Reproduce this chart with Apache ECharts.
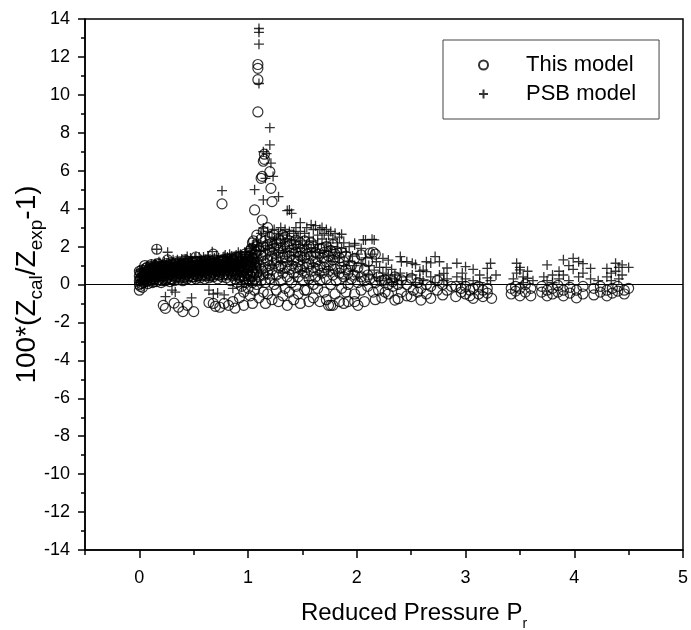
<!DOCTYPE html>
<html><head><meta charset="utf-8">
<script src="https://cdn.jsdelivr.net/npm/echarts@6/dist/echarts.min.js"></script>
<style>html,body{margin:0;padding:0;background:#fff}#c{width:691px;height:630px}</style>
</head><body><div id="c"></div>
<script>
const seriesNames = ['This model', 'PSB model'];
const xTicks = [0, 1, 2, 3, 4, 5];
const xMinorTicks = [-0.5, 0.5, 1.5, 2.5, 3.5, 4.5];
const yRange = [-14, 14];

// rows: [x, y1, y2, ...]
const thisModelRows = [
[0.00,0.0,0.2,0.45,0.7,-0.3],[0.01,-0.1,0.3,0.6],[0.02,0.05,0.4,0.76],[0.03,-0.15,0.25],[0.04,0.1,0.5],
[0.06,0.15,0.55,0.85],[0.08,0.05,0.35,0.7],[0.10,0.2,0.6,0.95],[0.12,0.1,0.45,0.8],[0.14,0.3,0.7,1.0],
[0.16,0.15,0.55,1.86],[0.18,0.25,0.75,1.05],[0.20,0.1,0.5,0.9],[0.22,0.3,0.7,-1.1],[0.24,0.2,0.6,1.0,-1.26],
[0.26,0.35,0.8,1.3],[0.28,0.15,0.55,0.95],[0.30,0.3,0.7,1.1],[0.32,0.2,0.6,-0.98],[0.34,0.4,0.85,1.2],
[0.36,0.25,0.65,1.0,-1.2],[0.38,0.35,0.75],[0.40,0.2,0.6,1.0,-1.43],[0.42,0.4,0.8,1.3],[0.44,0.3,0.7,-1.1],
[0.46,0.45,0.85,1.1],[0.48,0.25,0.65,1.0],[0.50,0.4,0.8,-1.43],[0.52,0.3,0.7,1.2,1.45],[0.54,0.45,0.85],
[0.56,0.35,0.75,1.1],[0.58,0.5,0.9],[0.60,0.3,0.7,1.15],[0.62,0.45,0.85,1.25],[0.64,0.35,0.75,-0.95],
[0.66,0.5,0.9,1.2],[0.68,0.4,0.8,1.6,-1.0],[0.70,0.55,0.95,-1.15],[0.72,0.3,0.7,1.1],[0.74,0.5,0.9,-1.2],
[0.76,0.4,0.8,1.25,4.25],[0.78,0.55,1.0,-1.0],[0.80,0.35,0.75,1.15],[0.82,0.5,0.9,-1.1],[0.84,0.2,0.65,1.05],
[0.86,0.45,0.85,1.3,-0.9],[0.88,0.3,0.7,-1.25],[0.90,0.1,0.55,1.0,1.4],[0.92,0.35,0.8,-0.7],[0.94,-0.1,0.25,0.65,1.2],
[0.96,0.45,0.9,-0.4,-1.1],[0.98,0.1,0.6,1.05,1.5],[1.00,-0.2,0.3,0.75,1.3],[1.02,0.5,1.0,1.8,-0.6],
[1.04,0.1,0.7,1.4,2.2,-1.0],[1.06,0.3,0.9,1.6,3.93,-0.3],[1.08,0.0,0.6,1.2,2.0,2.6],[1.09,11.6,11.4,10.8,9.1],
[1.10,0.4,1.0,1.8,-0.7],[1.12,0.2,0.8,1.5,2.4,5.6],[1.13,5.7,3.4],[1.14,0.5,1.2,2.0,2.8,6.5,-0.4],[1.15,6.87,6.6],
[1.16,0.1,0.9,1.6,2.3,-1.0],[1.18,0.6,1.3,2.1,3.0,-0.5],[1.20,0.3,1.0,1.8,2.5,5.95],[1.21,5.07],
[1.22,0.8,1.5,2.2,4.37,-0.8],[1.24,0.0,1.1,1.9,2.6],[1.26,0.5,1.3,2.1,-0.3],[1.28,0.9,1.7,2.4,-0.9],
[1.30,0.2,1.0,1.9,2.3],[1.32,0.6,1.4,2.6,-0.6],[1.34,-0.2,0.9,1.6,2.5],[1.36,0.4,1.2,2.0,-1.1],
[1.38,0.8,1.5,2.3,-0.4],[1.40,0.1,1.0,1.8,2.6],[1.42,0.6,1.3,2.1,-0.8],[1.44,-0.1,0.9,1.7,2.34],
[1.46,0.4,1.2,2.0,-0.5],[1.48,0.8,1.5,2.2,-1.0],[1.50,0.2,1.0,1.8],[1.52,0.6,1.4,2.3,-0.3],[1.54,-0.3,0.9,1.6],
[1.56,0.3,1.1,2.0,-0.9],[1.58,0.7,1.5,2.2],[1.60,0.0,0.9,2.0,-0.7],[1.62,0.4,1.2,1.7],[1.64,0.8,1.6,-0.2],
[1.66,0.2,1.0,1.9,-0.9],[1.68,0.6,1.4,1.9],[1.70,-0.4,0.9,1.7],[1.72,0.3,1.2,2.0,-0.8],[1.74,0.7,1.5,-1.1],
[1.76,0.0,1.0,1.8,-1.1],[1.78,0.5,1.3,2.1,-1.1],[1.80,-0.5,0.8,1.6],[1.81,1.75,0.2],[1.84,0.6,1.4,-0.9],
[1.86,-0.2,0.9,1.7],[1.88,0.4,1.2,-1.0],[1.90,0.8,1.5,-0.4],[1.92,0.0,0.6,-0.9],[1.95,0.3,1.0],
[1.98,-0.5,0.5,1.38,-0.9],[2.01,0.1,0.9,-1.1],[2.04,-0.3,0.4,1.56],[2.07,0.2,0.8,-0.9],[2.10,-0.1,0.5,1.2],
[2.12,0.3,1.66],[2.15,-0.4,1.7],[2.17,0.1,1.6,-0.8],[2.20,-0.3,0.4],[2.23,0.2,-0.7],[2.26,-0.4,0.24],
[2.29,0.0,-0.5],[2.33,-0.1,0.15],[2.35,-0.82,0.4],[2.38,-0.75,0.0],[2.41,-0.4,0.24],[2.46,-0.6,0.0],
[2.50,-0.64,0.33],[2.52,-0.3],[2.56,0.1,-0.4],[2.59,-0.82,-0.2],[2.64,0.0,-0.5],[2.68,-0.73,-0.1],
[2.74,0.2,-0.3],[2.79,-0.55,0.0],[2.83,-0.3],[2.87,-0.1],
[2.91,-0.64,-0.1],[2.96,-0.4,-0.2],[3.00,-0.1,-0.5],[3.04,-0.3,-0.6],[3.07,-0.73,-0.2],[3.12,-0.5,-0.1],
[3.16,-0.64,-0.3],[3.20,-0.2,-0.45],[3.24,-0.73],[3.42,-0.2,-0.5],[3.46,-0.1,-0.35],[3.50,-0.6,-0.2],
[3.55,-0.4,0.0],[3.60,-0.6,-0.2],[3.70,-0.4,-0.1],[3.75,-0.6,-0.3],[3.80,-0.2,-0.5],[3.85,-0.05,-0.4],
[3.90,-0.6,-0.3],[3.96,-0.15,-0.45],[4.02,-0.7,-0.3],[4.08,-0.1,-0.5],[4.18,-0.2,-0.55],[4.24,-0.4,-0.1],
[4.30,-0.3,-0.6],[4.35,-0.2,-0.45],[4.40,-0.1,-0.35],[4.46,-0.3,-0.5],[4.50,-0.2]
];
// denser part of the low-pressure band
const thisModelBandRows = [
[0.05,0.3,0.65,1.0],[0.07,0.2,0.5,0.9],[0.09,0.4,0.75],[0.11,0.3,0.65,1.05],[0.13,0.15,0.55,0.9],
[0.15,0.4,0.8],[0.17,0.25,0.6,1.1],[0.19,0.45,0.85],[0.21,0.2,0.6,1.0],[0.23,0.45,0.85],
[0.25,0.3,0.65,1.1],[0.27,0.5,0.9],[0.29,0.3,0.75,1.15],[0.31,0.45,0.9],[0.33,0.35,0.7,1.1],
[0.35,0.5,0.95],[0.37,0.4,0.8,1.2],[0.39,0.55,1.0],[0.41,0.35,0.7,1.1],[0.43,0.55,0.95],
[0.45,0.4,0.75,1.2],[0.47,0.6,1.0],[0.49,0.4,0.8,1.15],[0.51,0.55,1.0],[0.53,0.45,0.8,1.2],
[0.55,0.6,1.0],[0.57,0.45,0.85,1.2],[0.59,0.65,1.05],[0.61,0.5,0.9,1.3],[0.63,0.6,1.05],
[0.65,0.45,0.85,1.2],[0.67,0.65,1.1],[0.69,0.5,0.9,1.3],[0.71,0.7,1.1],[0.73,0.5,0.9,1.25],
[0.75,0.65,1.05],[0.77,0.5,0.9,1.3],[0.79,0.7,1.1],[0.81,0.55,0.95,1.35],[0.83,0.75,1.15],
[0.85,0.55,1.0,1.4],[0.87,0.75,1.2],[0.89,0.5,0.95,1.45],[0.91,0.7,1.2],[0.93,0.45,1.0,1.5],
[0.95,0.7,1.3],[0.97,0.3,0.9,1.6],[0.99,0.5,1.2],[1.01,0.2,0.9,1.5],[1.03,0.4,1.2,1.9],
[1.05,0.6,1.3,2.3],[1.07,0.2,1.0,1.7]
];

const psbModelRows = [
[0.00,0.1,0.4,0.76],[0.01,0.2,0.55],[0.02,0.0,0.35,0.7],[0.04,0.25,0.6],[0.06,0.4,0.8],
[0.08,0.2,0.55,0.9],[0.10,0.35,0.75],[0.12,0.5,0.95],[0.14,0.3,0.7,1.1],[0.16,0.5,1.86],
[0.18,0.4,0.85,1.2],[0.20,0.6,1.0],[0.22,0.35,0.8],[0.24,0.55,0.95,-0.64],[0.26,0.4,0.85,1.7],
[0.28,0.65,1.05],[0.30,0.45,0.9,-0.3],[0.32,0.6,1.1],[0.33,-0.4],[0.34,0.5,0.95],[0.36,0.7,1.15],
[0.38,0.45,0.9],[0.40,0.65,1.1],[0.42,0.5,0.95,1.3],[0.44,0.7,1.47],[0.46,0.55,1.0],[0.48,0.75,1.15,-0.71],
[0.50,0.5,0.95],[0.52,0.7,1.47],[0.54,0.55,1.0],[0.56,0.8,1.2],[0.58,0.6,1.05],[0.60,0.75,1.2],
[0.62,0.55,1.0],[0.64,0.8,1.25,-0.3],[0.66,0.6,1.05],[0.67,1.73],[0.68,0.85,1.25,-0.5],[0.70,0.65,1.1],
[0.72,0.9,1.3,-0.45],[0.74,0.7,1.15],[0.76,0.95,4.95],[0.78,0.75,1.47,-0.55],[0.80,0.95,1.3],
[0.82,0.7,1.1],[0.84,1.0,1.35],[0.86,0.8,1.2,-0.2],[0.88,1.05,1.4],[0.90,0.85,1.25],[0.92,1.1,0.5],
[0.94,0.9,1.45,-0.1],[0.96,1.2,0.6],[0.98,1.0,1.6],[1.00,1.3,0.7,0.2],[1.02,1.1,1.7],[1.04,1.4,0.8,2.0],
[1.06,1.2,5.0,0.4],[1.08,1.6,2.3,0.9],[1.10,13.5,13.3,12.67,10.6,1.3,2.0],[1.12,1.8,2.7,0.6],
[1.14,7.0,4.46,2.98],[1.16,1.5,2.2,5.6],[1.17,6.9],[1.18,1.9,2.8,0.5],[1.20,8.27,7.36],[1.21,6.4],
[1.22,1.6,2.5,1.0],[1.23,5.7],[1.24,2.1,2.9,0.3],[1.26,1.4,2.4],[1.28,4.63,1.8,2.7],[1.30,1.2,2.2,3.0],
[1.32,1.7,2.6,0.6],[1.34,2.0,2.9],[1.36,3.9,1.5,2.4],[1.38,3.93,1.9,2.8],[1.40,3.75,1.2,2.3],
[1.42,1.7,2.7,0.4],[1.44,2.1,3.0],[1.46,1.5,2.5],[1.48,3.26,1.9,2.8],[1.50,1.3,2.3,0.7],[1.52,1.7,2.7],
[1.54,3.0,2.1],[1.56,1.5,2.5,0.2],[1.58,3.15,1.9],[1.60,2.3,2.9,1.1],[1.62,1.7,3.1],[1.64,2.6,2.1],
[1.66,1.4,2.9,0.5],[1.68,2.4,3.0],[1.70,1.8,2.7],[1.72,2.2,2.9],[1.74,1.5,2.6,0.8],[1.76,2.0,2.8],
[1.78,2.4,1.2],[1.80,2.7,1.7],[1.82,2.2,0.6],[1.84,2.5,1.4],[1.86,2.65,1.9],[1.88,2.2,1.0],[1.90,1.7,0.3],
[1.93,2.0,1.2],[1.96,1.5,0.7],[1.98,2.17,2.08,1.0],[2.01,1.6,0.4],[2.04,1.9,1.1],[2.06,2.35],
[2.08,2.35,1.4],[2.11,1.0,0.5],[2.14,2.38,1.6],[2.16,2.35,0.76],[2.18,1.2,0.4],[2.21,0.9,0.2],
[2.24,1.38,0.6],[2.27,0.3,0.9],[2.29,1.29,0.5],[2.32,0.8,0.1],[2.35,0.5,0.3],[2.40,1.47,0.6],
[2.41,1.2,0.2],[2.46,1.2,0.4],[2.51,1.12,0.5],[2.54,1.05,0.1],[2.58,0.3,0.7],[2.61,0.76,0.2],
[2.64,1.2,0.68],[2.68,1.14,0.4],[2.72,1.47,0.1],[2.76,1.2,0.5],[2.80,0.59,0.2],[2.83,0.87,0.3],
[2.92,1.12,0.4],[2.97,0.15,0.6],[3.00,0.94,0.3],[3.07,0.8,0.2],[3.13,0.5,0.1],[3.20,0.85,0.35],
[3.23,1.12,0.2],[3.28,0.5],[3.44,0.3],[3.47,1.12,0.6],[3.50,0.77,0.9],[3.53,0.4,0.1],[3.57,0.33,0.7],
[3.62,0.2],[3.72,0.4],[3.75,1.03,0.2],[3.80,0.5,0.1],[3.86,0.3,0.7],[3.90,1.3,0.5],[3.95,1.0,0.2],
[3.99,1.38,0.8],[4.04,1.2,0.4],[4.08,1.1,0.6],[4.15,0.85,0.3],[4.22,0.2],[4.30,0.85,0.4],[4.34,0.6,0.2],
[4.38,1.12,0.7],[4.41,0.9,0.3],[4.44,1.03,0.5],[4.50,0.9]
];
const psbModelBandRows = [
[0.03,0.45,0.8],[0.05,0.15,0.5],[0.07,0.35,0.7,1.0],[0.09,0.55,0.9],[0.11,0.3,0.7,1.05],
[0.13,0.5,0.85],[0.15,0.35,0.75,1.1],[0.17,0.6,0.95],[0.19,0.4,0.8,1.15],[0.21,0.6,1.0],
[0.23,0.45,0.85,1.2],[0.25,0.65,1.05],[0.27,0.5,0.9,1.25],[0.29,0.7,1.1],[0.31,0.5,0.9,1.3],
[0.33,0.7,1.1],[0.35,0.55,0.95,1.3],[0.37,0.75,1.15],[0.39,0.55,0.95,1.35],[0.41,0.8,1.2],
[0.43,0.6,1.0,1.35],[0.45,0.8,1.2],[0.47,0.6,1.0,1.4],[0.49,0.85,1.25],[0.51,0.65,1.05,1.4],
[0.53,0.85,1.25],[0.55,0.65,1.05,1.45],[0.57,0.9,1.3],[0.59,0.7,1.1,1.45],[0.61,0.9,1.3],
[0.63,0.7,1.1,1.5],[0.65,0.95,1.35],[0.67,0.75,1.15],[0.69,1.0,1.4],[0.71,0.75,1.15,1.5],
[0.73,1.0,1.4],[0.75,0.8,1.2],[0.77,1.05,1.45],[0.79,0.8,1.2,1.55],[0.81,1.05,1.45],
[0.83,0.85,1.25,1.6],[0.85,1.1,1.5],[0.87,0.85,1.3],[0.89,1.15,1.55],[0.91,0.9,1.3,1.7],
[0.93,1.2,1.6],[0.95,0.9,1.35],[0.97,1.25,1.7],[0.99,0.95,1.45],[1.01,1.3,1.9],
[1.03,1.0,1.6],[1.05,1.4,2.1],[1.07,1.1,1.8]
];

const toPoints = rows => rows.flatMap(r => r.slice(1).map(y => [r[0], y]));
const thisModelPoints = toPoints(thisModelRows.concat(thisModelBandRows));
const psbModelPoints = toPoints(psbModelRows.concat(psbModelBandRows));

const font = 'Liberation Sans, Arial, Helvetica, sans-serif';
const axisColor = '#000';

const chart = echarts.init(document.getElementById('c'), null, {renderer: 'canvas'});
chart.setOption({
  animation: false,
  backgroundColor: '#fff',
  grid: {left: 85, top: 19, width: 598, height: 531, containLabel: false, outerBoundsMode: 'none',
    show: true, borderColor: '#000', borderWidth: 1.5, backgroundColor: 'transparent'},
  legend: {
    orient: 'vertical', left: 443, top: 40,
    padding: [14, 23, 14, 35], itemGap: 7, itemWidth: 9, itemHeight: 9,
    borderColor: '#444', borderWidth: 1, selectedMode: false,
    textStyle: {fontSize: 22, fontFamily: font, color: '#000', padding: [0, 0, 0, 33], lineHeight: 21},
    data: seriesNames
  },
  xAxis: [{
    type: 'value', min: -0.5, max: 5,
    axisLine: {onZero: false, lineStyle: {color: axisColor, width: 1.5}},
    axisTick: {customValues: xTicks, length: 8, lineStyle: {color: axisColor, width: 1.5}},
    axisLabel: {customValues: xTicks, color: '#000', fontSize: 18, fontFamily: font, margin: 19},
    splitLine: {show: false},
    name: '{a|Reduced Pressure P}{s|r}', nameLocation: 'middle', nameGap: 45, nameMoveOverlap: false,
    nameTextStyle: {padding: [0, 0, 0, 60], rich: {
      a: {fontSize: 24, fontFamily: font, color: '#000', lineHeight: 36, verticalAlign: 'middle'},
      s: {fontSize: 14, fontFamily: font, color: '#000', lineHeight: 14, verticalAlign: 'bottom'}
    }}
  }, {
    type: 'value', min: -0.5, max: 5, position: 'bottom',
    axisLine: {show: false, onZero: false},
    axisTick: {customValues: xMinorTicks, length: 5, lineStyle: {color: axisColor, width: 1.5}},
    axisLabel: {show: false}, splitLine: {show: false}
  }],
  yAxis: {
    type: 'value', min: yRange[0], max: yRange[1], interval: 2,
    axisLine: {onZero: false, lineStyle: {color: axisColor, width: 1.5}},
    axisTick: {length: 7, lineStyle: {color: axisColor, width: 1.5}},
    minorTick: {show: true, splitNumber: 2, length: 4, lineStyle: {color: axisColor, width: 1.5}},
    axisLabel: {color: '#000', fontSize: 18, fontFamily: font, margin: 15},
    splitLine: {show: false}, minorSplitLine: {show: false},
    name: '{a|100*(Z}{s|cal}{a|/Z}{s|exp}{a|-1)}', nameLocation: 'middle', nameGap: 39, nameMoveOverlap: false,
    nameTextStyle: {rich: {
      a: {fontSize: 28, fontFamily: font, color: '#000', lineHeight: 38, verticalAlign: 'middle'},
      s: {fontSize: 19, fontFamily: font, color: '#000', lineHeight: 19, verticalAlign: 'bottom'}
    }}
  },
  series: [{
    name: seriesNames[0], type: 'scatter', data: thisModelPoints,
    symbol: 'circle', symbolSize: 10,
    itemStyle: {color: 'rgba(0,0,0,0)', borderColor: '#000', borderWidth: 1.2},
    emphasis: {disabled: true},
    markLine: {silent: true, symbol: ['none', 'none'], label: {show: false},
      lineStyle: {color: '#000', width: 1, type: 'solid'}, emphasis: {disabled: true}, data: [{yAxis: 0}]}
  }, {
    name: seriesNames[1], type: 'scatter', data: psbModelPoints,
    symbol: 'path://M0,5L10,5M5,0L5,10', symbolKeepAspect: true, symbolSize: 10,
    itemStyle: {color: 'rgba(0,0,0,0)', borderColor: '#000', borderWidth: 1.3},
    emphasis: {disabled: true}
  }]
});
</script>
</body></html>
